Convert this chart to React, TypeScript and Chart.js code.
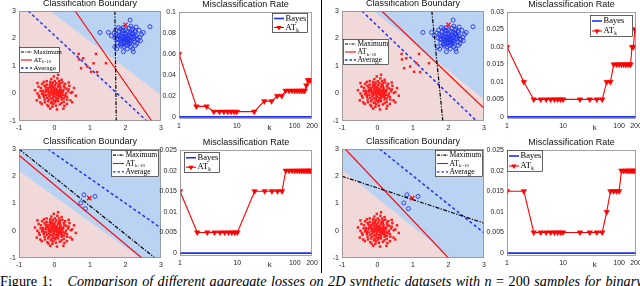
import React, { useEffect, useRef } from "react";
import { Chart, registerables } from "chart.js";

Chart.register(...registerables);

type Pt = [number, number];

// ---------------- scatter data ----------------
const redCluster: Pt[] = [
  [-0.05, 0.02], [0.12, -0.08], [-0.18, 0.15], [0.22, 0.1], [0.03, -0.25], [-0.3, -0.05], [0.15, 0.28], [-0.1, -0.35], [0.35, -0.12], [-0.22, 0.32],
  [0.08, 0.12], [-0.02, -0.12], [0.26, -0.3], [-0.38, 0.2], [0.18, 0.02], [-0.12, 0.05], [0.05, 0.38], [-0.28, -0.22], [0.4, 0.15], [-0.06, -0.48],
  [0.1, -0.18], [-0.15, -0.1], [0.28, 0.22], [-0.42, -0.15], [0.0, 0.2], [0.2, -0.22], [-0.25, 0.05], [0.13, 0.45], [-0.08, 0.28], [0.32, 0.0],
  [-0.18, -0.28], [0.06, -0.05], [-0.35, 0.35], [0.24, -0.05], [-0.02, 0.1], [0.15, -0.4], [-0.48, 0.0], [0.45, -0.25], [-0.12, 0.42], [0.02, -0.32],
  [0.3, 0.35], [-0.2, -0.42], [0.1, 0.25], [-0.32, 0.1], [0.18, -0.12], [-0.05, -0.2], [0.38, 0.08], [-0.25, 0.22], [0.0, -0.02], [0.22, 0.4],
  [-0.4, -0.32], [0.12, 0.05], [-0.1, 0.18], [0.05, -0.15], [0.27, -0.18], [-0.16, 0.0], [0.08, 0.55], [-0.3, -0.12], [0.5, 0.05], [-0.08, -0.3],
  [0.16, 0.15], [-0.22, 0.45], [0.35, -0.38], [-0.45, 0.25], [0.02, 0.3], [-0.12, -0.55], [0.25, 0.12], [-0.35, -0.02], [0.1, -0.28], [-0.02, 0.62],
  [0.42, 0.28], [-0.18, 0.12], [0.04, 0.08], [-0.28, 0.28], [0.2, -0.35], [-0.05, 0.4], [0.6, -0.08], [-0.5, -0.25], [0.14, -0.02], [-0.08, 0.0],
  [0.02, 0.05], [-0.07, 0.1], [0.09, -0.02], [-0.03, -0.07], [0.14, 0.09], [-0.11, -0.04], [0.06, 0.17], [-0.17, 0.07], [0.19, -0.06], [-0.04, 0.24],
  [0.11, -0.12], [-0.21, -0.16], [0.03, 0.14], [-0.09, -0.16], [0.23, 0.05], [-0.13, 0.25], [0.07, -0.22], [-0.24, 0.12], [0.17, 0.2], [-0.01, -0.27],
  [0.3, -0.08], [-0.33, 0.02], [0.12, 0.33], [-0.15, -0.22], [0.21, -0.15], [-0.06, 0.34], [0.0, 0.07], [-0.19, 0.2], [0.26, 0.28], [-0.27, -0.32],
  [0.09, 0.04], [-0.04, -0.39], [0.33, 0.18], [-0.39, 0.09], [0.04, -0.44], [-0.13, 0.33], [0.36, -0.22], [-0.23, -0.06], [0.15, 0.37], [-0.08, 0.14],
  [0.46, 0.02], [-0.44, -0.08], [0.2, 0.5], [-0.3, 0.42], [0.28, -0.45], [-0.17, -0.47], [0.55, 0.2], [-0.55, 0.12], [0.1, 0.68], [0.25, -0.55],
  [0.01, 0.45], [-0.36, -0.38], [0.4, 0.4], [-0.09, 0.52], [0.07, -0.58], [0.5, -0.32], [-0.48, 0.38], [0.18, 0.08], [-0.02, 0.18], [0.06, 0.02],
];

const redOutliersTop: Pt[] = [
  [0.68, 1.44], [0.81, 1.28], [0.69, 1.24], [1.17, 1.44], [1.1, 1.1],
  [0.92, 0.98], [0.75, 0.92], [1.03, 0.79], [1.45, 1.1], [1.2, 0.78],
];

const blueClusterTop: Pt[] = [
  [2.0, 2.0], [2.1, 1.92], [1.88, 2.08], [2.2, 2.15], [1.95, 1.82], [2.05, 2.25], [1.8, 1.95], [2.25, 1.88], [1.92, 2.18], [2.15, 2.05],
  [1.85, 1.78], [2.3, 2.1], [2.02, 1.75], [1.75, 2.15], [2.18, 2.3], [1.98, 1.95], [2.08, 2.12], [1.9, 1.9], [2.22, 1.98], [2.12, 1.8],
  [1.82, 2.25], [2.35, 1.95], [2.0, 2.32], [1.7, 2.02], [2.28, 2.22], [1.95, 2.05], [2.05, 1.88], [1.88, 1.72], [2.15, 1.7], [2.4, 2.05],
  [1.78, 1.85], [2.1, 2.38], [1.6, 2.1], [2.32, 1.82], [1.94, 2.4], [2.2, 1.62], [1.85, 2.0], [2.45, 2.15], [2.05, 1.62], [1.72, 2.3],
  [2.38, 2.3], [1.98, 2.15], [2.12, 1.95], [1.9, 2.28], [2.25, 2.05], [2.0, 1.85], [1.8, 2.1], [2.18, 2.18], [2.08, 2.02], [1.92, 1.98],
  [2.69, 2.43], [1.28, 2.22], [1.52, 2.22], [2.5, 2.22], [1.7, 1.7], [1.94, 1.52], [2.22, 1.52], [2.13, 2.67], [1.75, 1.62], [2.3, 2.42],
  [2.03, 2.08], [1.97, 1.9], [2.13, 2.22], [1.87, 1.97], [2.23, 2.08], [2.07, 1.78], [1.83, 2.13], [2.17, 1.9], [1.93, 2.3], [2.27, 2.28],
  [2.0, 2.18], [2.1, 1.85], [1.76, 1.98], [2.33, 2.0], [1.96, 1.7], [2.15, 2.45], [1.86, 2.35], [2.42, 1.92], [1.68, 2.2], [2.06, 1.97],
  [2.2, 2.35], [1.9, 1.8], [2.28, 1.75], [1.8, 2.4], [2.12, 2.12],
];

const crossTop: Pt[] = [[2.0, 2.5]];
const blueBottom: Pt[] = [[0.83, 1.32], [1.14, 1.26], [0.74, 1.02], [0.87, 0.81]];
const crossBottom: Pt[] = [[0.98, 1.2]];

const scatterTicks = [-1, 0, 1, 2, 3];
const scatterTickLabels = ["-1", "0", "1", "2", "3"];

// decision boundaries (end points, data units)
const shadeTL: Pt[] = [[-0.13, 3], [3, -0.05]];
const maxTL: Pt[] = [[1.7, 3], [1.74, -1]];
const atTL: Pt[] = [[0.58, 3], [2.74, -1]];
const avgTL: Pt[] = [[-0.74, 3], [2.6, -1]];

const shadeTR: Pt[] = [[-0.11, 3], [3, -0.2]];
const maxTR: Pt[] = [[1.53, 3], [1.84, -1]];
const atTR: Pt[] = [[0.12, 3], [3, -0.54]];
const avgTR: Pt[] = [[-0.44, 3], [2.79, -1]];

const shadeBL: Pt[] = [[-1, 2.2], [2.41, -1]];
const maxBL: Pt[] = [[-1, 3], [2.83, -1]];
const atBL: Pt[] = [[-1, 2.77], [2.46, -1]];
const avgBL: Pt[] = [[-0.19, 3], [3, 0.1]];

const shadeBR: Pt[] = [[-1, 2.24], [2.09, -1]];
const maxBR: Pt[] = [[-1, 2.0], [3, 0.28]];
const atBR: Pt[] = [[-0.91, 3], [2.0, -1]];
const avgBR: Pt[] = [[0.06, 3], [3, -0.08]];

// ---------------- misclassification-rate data ----------------
const kValues = [1, 2, 3, 4, 5, 6, 7, 8, 9, 10, 20, 30, 40, 50, 60, 70, 80, 90, 100, 110, 120, 130, 140, 150, 160, 170, 180, 190, 200];
const atkTopLeft = [0.06, 0.01, 0.01, 0.005, 0.005, 0.005, 0.005, 0.005, 0.005, 0.005, 0.005, 0.015, 0.015, 0.02, 0.02, 0.025, 0.025, 0.025, 0.025, 0.025, 0.025, 0.025, 0.025, 0.025, 0.03, 0.035, 0.035, 0.035, 0.035];
const atkTopRight = [0.02, 0.01, 0.005, 0.005, 0.005, 0.005, 0.005, 0.005, 0.005, 0.005, 0.005, 0.005, 0.005, 0.005, 0.01, 0.01, 0.015, 0.015, 0.015, 0.015, 0.015, 0.015, 0.015, 0.015, 0.015, 0.02, 0.02, 0.025, 0.025];
const atkBottomLeft = [0.015, 0.005, 0.005, 0.005, 0.005, 0.005, 0.005, 0.005, 0.005, 0.005, 0.015, 0.015, 0.015, 0.015, 0.015, 0.02, 0.02, 0.02, 0.02, 0.02, 0.02, 0.02, 0.02, 0.02, 0.02, 0.02, 0.02, 0.02, 0.02];
const atkBottomRight = [0.015, 0.015, 0.005, 0.005, 0.005, 0.005, 0.005, 0.005, 0.005, 0.005, 0.005, 0.005, 0.005, 0.005, 0.01, 0.015, 0.015, 0.015, 0.015, 0.02, 0.02, 0.02, 0.02, 0.02, 0.02, 0.02, 0.02, 0.02, 0.02];
const bayesK = [1, 200];
const bayesRate = [0, 0];

const rateXTicks = [1, 10, 100, 200];
const rateXTickLabels = ["1", "10", "100", "200"];
const yTicksTopLeft = [0, 0.02, 0.04, 0.06, 0.08, 0.1];
const yLabelsTopLeft = ["0", "0.02", "0.04", "0.06", "0.08", "0.1"];
const yTicksTopRight = [0, 0.005, 0.01, 0.015, 0.02, 0.025, 0.03];
const yLabelsTopRight = ["0", "0.005", "0.01", "0.015", "0.02", "0.025", "0.03"];
const yTicksBottom = [0, 0.005, 0.01, 0.015, 0.02, 0.025];
const yLabelsBottom = ["0", "0.005", "0.01", "0.015", "0.02", "0.025"];

// ---------------- styling helpers ----------------
const SANS = '"Liberation Sans", Arial, Helvetica, sans-serif';
const SERIF = '"Liberation Serif", "Times New Roman", serif';
const RED = "#ff0000";
const BLUE = "#1f30f2";
const PINK_BG = "#f2d9d9";
const BLUE_BG = "#bad3f3";

const xy = (a: Pt[]) => a.map(([x, y]) => ({ x, y }));

type LegendEntry = { text: string; sub?: string; color: string; dash: number[]; lw: number; marker?: boolean };
type LegendSpec = { side: "left" | "right"; dx: number; dy: number; w: number; h: number; fs: number; sample: number; entries: LegendEntry[] };

function drawTri(ctx: CanvasRenderingContext2D, cx: number, cy: number, r: number) {
  ctx.beginPath();
  ctx.moveTo(cx - r * 0.866, cy - r * 0.5);
  ctx.lineTo(cx + r * 0.866, cy - r * 0.5);
  ctx.lineTo(cx, cy + r);
  ctx.closePath();
  ctx.fill();
}

function drawLegend(ctx: CanvasRenderingContext2D, a: any, L: LegendSpec) {
  const x = L.side === "left" ? a.left + L.dx : a.right - L.dx - L.w;
  const y = a.top + L.dy;
  ctx.save();
  ctx.fillStyle = "#fff";
  ctx.fillRect(x, y, L.w, L.h);
  ctx.strokeStyle = "#222";
  ctx.lineWidth = 0.7;
  ctx.strokeRect(x + 0.5, y + 0.5, L.w - 1, L.h - 1);
  const rh = (L.h - 2) / L.entries.length;
  L.entries.forEach((e, i) => {
    const cy = y + 1 + rh * (i + 0.5);
    ctx.setLineDash(e.dash);
    ctx.strokeStyle = e.color;
    ctx.lineWidth = e.lw;
    ctx.beginPath();
    ctx.moveTo(x + 2, cy);
    ctx.lineTo(x + 2 + L.sample, cy);
    ctx.stroke();
    ctx.setLineDash([]);
    if (e.marker) {
      ctx.fillStyle = e.color;
      drawTri(ctx, x + 2 + L.sample / 2, cy, 3.1);
    }
    ctx.fillStyle = "#000";
    ctx.font = `${L.fs}px ${SERIF}`;
    ctx.textAlign = "left";
    ctx.textBaseline = "middle";
    const tx = x + 3.5 + L.sample;
    ctx.fillText(e.text, tx, cy);
    if (e.sub) {
      const w = ctx.measureText(e.text).width;
      ctx.font = `${L.fs * 0.62}px ${SERIF}`;
      ctx.fillText(e.sub, tx + w + 0.3, cy + L.fs * 0.32);
    }
  });
  ctx.restore();
}

function decoPlugin(o: { bg: string; title: string; legend: LegendSpec; k?: boolean }) {
  return {
    id: "panelDeco",
    beforeDraw(chart: any) {
      const { ctx, chartArea: a } = chart;
      ctx.save();
      ctx.fillStyle = o.bg;
      ctx.fillRect(a.left, a.top, a.right - a.left, a.bottom - a.top);
      ctx.restore();
    },
    afterDraw(chart: any) {
      const { ctx, chartArea: a } = chart;
      ctx.save();
      ctx.strokeStyle = "#8c8c8c";
      ctx.lineWidth = 0.8;
      ctx.strokeRect(a.left + 0.5, a.top + 0.5, a.right - a.left - 1, a.bottom - a.top - 1);
      ctx.fillStyle = "#111";
      ctx.font = `9px ${SANS}`;
      ctx.textAlign = "center";
      ctx.textBaseline = "middle";
      ctx.fillText(o.title, (a.left + a.right) / 2, a.top - 7);
      if (o.k) {
        ctx.font = `8px ${SANS}`;
        ctx.fillStyle = "#262626";
        ctx.fillText("k", a.left + (a.right - a.left) * 0.68, a.bottom + 8.5);
      }
      ctx.restore();
      drawLegend(ctx, a, o.legend);
    },
  };
}

function axis(type: string, min: number, max: number, ticks: number[], labels: string[], fitKey: "width" | "height", fitVal: number) {
  return {
    type,
    min,
    max,
    grid: { display: false, drawTicks: false },
    border: { display: false },
    ticks: {
      font: { family: SANS, size: 7 },
      color: "#262626",
      padding: 3,
      maxRotation: 0,
      autoSkip: false,
      callback: (_v: any, i: number) => labels[i],
    },
    afterBuildTicks: (s: any) => {
      s.ticks = ticks.map((v) => ({ value: v }));
    },
    afterFit: (s: any) => {
      s[fitKey] = fitVal;
    },
  };
}

type Rect = [number, number, number, number];
const AX_S = 20, AX_R = 26, TOP = 12, RIGHT = 9, BOT = 14;

function baseOptions(scales: any) {
  return {
    responsive: false,
    maintainAspectRatio: false,
    animation: false,
    devicePixelRatio: 1,
    events: [],
    layout: { padding: { top: TOP, right: RIGHT, left: 0, bottom: 0 } },
    plugins: { legend: { display: false }, tooltip: { enabled: false }, title: { display: false } },
    scales,
  };
}

const scatterLegend = (side: "left" | "right", dx: number, dy: number, w: number, h: number, fs: number): LegendSpec => ({
  side, dx, dy, w, h, fs, sample: 11,
  entries: [
    { text: "Maximum", color: "#000", dash: [3, 1.2, 1, 1.2], lw: 1.1 },
    { text: "AT", sub: "k=10", color: RED, dash: [], lw: 1.1 },
    { text: "Average", color: BLUE, dash: [2.5, 2], lw: 1.4 },
  ],
});

const rateLegend = (side: "left" | "right", dx: number, dy: number, w: number, h: number): LegendSpec => ({
  side, dx, dy, w, h, fs: 8.5, sample: 10,
  entries: [
    { text: "Bayes", color: BLUE, dash: [], lw: 1.6 },
    { text: "AT", sub: "k", color: RED, dash: [], lw: 1.1, marker: true },
  ],
});

type ScatterSpec = {
  red: Pt[]; blue: Pt[]; cross: Pt[]; shade: Pt[]; shadeFill: string; bg: string; shadeColor: string;
  max: Pt[]; at: Pt[]; avg: Pt[]; legend: LegendSpec;
};

function scatterConfig(s: ScatterSpec): any {
  return {
    type: "scatter",
    data: {
      datasets: [
        { type: "scatter", data: xy(s.cross), showLine: false, pointStyle: "crossRot", pointRadius: 3, borderColor: RED, backgroundColor: RED, borderWidth: 1.3, order: 0 },
        { type: "line", data: xy(s.max), showLine: true, borderColor: "#000", borderWidth: 1.2, borderDash: [4, 1.5, 1.2, 1.5], pointRadius: 0, fill: false, order: 1 },
        { type: "line", data: xy(s.at), showLine: true, borderColor: RED, borderWidth: 1.1, pointRadius: 0, fill: false, order: 2 },
        { type: "line", data: xy(s.avg), showLine: true, borderColor: BLUE, borderWidth: 1.5, borderDash: [3, 2.5], pointRadius: 0, fill: false, order: 3 },
        { type: "scatter", data: xy(s.blue), showLine: false, pointStyle: "circle", pointRadius: 2, borderColor: "#2236ee", backgroundColor: "rgba(0,0,0,0)", borderWidth: 0.9, order: 4 },
        { type: "scatter", data: xy(s.red), showLine: false, pointStyle: "rect", pointRadius: 1.75, borderColor: "#ff1c1c", backgroundColor: "#ff1c1c", borderWidth: 0, order: 5 },
        { type: "line", data: xy(s.shade), showLine: true, borderColor: "rgba(0,0,0,0)", borderWidth: 0, pointRadius: 0, fill: s.shadeFill, backgroundColor: s.shadeColor, order: 10 },
      ],
    },
    options: baseOptions({
      x: axis("linear", -1, 3, scatterTicks, scatterTickLabels, "height", BOT),
      y: axis("linear", -1, 3, scatterTicks, scatterTickLabels, "width", AX_S),
    }),
    plugins: [decoPlugin({ bg: s.bg, title: "Classification Boundary", legend: s.legend })],
  };
}

type RateSpec = { atk: number[]; ymin: number; ymax: number; yTicks: number[]; yLabels: string[]; legend: LegendSpec };

function rateConfig(r: RateSpec): any {
  return {
    type: "line",
    data: {
      datasets: [
        {
          data: kValues.map((k, i) => ({ x: k, y: r.atk[i] })),
          borderColor: RED, borderWidth: 1.1,
          pointStyle: "triangle", pointRotation: 180, pointRadius: 3.3,
          pointBackgroundColor: RED, pointBorderColor: RED, pointBorderWidth: 0.4, fill: false, order: 0,
        },
        {
          data: bayesK.map((k, i) => ({ x: k, y: bayesRate[i] })),
          borderColor: BLUE, borderWidth: 1.6, pointRadius: 0, fill: false, order: 1,
        },
      ],
    },
    options: baseOptions({
      x: axis("logarithmic", 1, 200, rateXTicks, rateXTickLabels, "height", BOT),
      y: axis("linear", r.ymin, r.ymax, r.yTicks, r.yLabels, "width", AX_R),
    }),
    plugins: [decoPlugin({ bg: "#ffffff", title: "Misclassification Rate", legend: r.legend, k: true })],
  };
}

function Panel({ rect, ax, build }: { rect: Rect; ax: number; build: () => any }) {
  const ref = useRef<HTMLCanvasElement | null>(null);
  const [l, t, r, b] = rect;
  const left = l - ax;
  const top = t - TOP;
  const width = r - l + ax + RIGHT;
  const height = b - t + TOP + BOT;
  useEffect(() => {
    if (!ref.current) return;
    const chart = new Chart(ref.current, build());
    return () => chart.destroy();
  }, []);
  return <canvas ref={ref} width={width} height={height} style={{ position: "absolute", left, top, width, height }} />;
}

export default function App() {
  return (
    <div style={{ position: "fixed", left: 0, top: 0, width: 640, height: 286, overflow: "hidden", background: "#fff" }}>
      <Panel rect={[19, 11, 161, 121]} ax={AX_S} build={() => scatterConfig({
        red: [...redCluster, ...redOutliersTop], blue: blueClusterTop, cross: crossTop,
        shade: shadeTL, shadeFill: "end", bg: PINK_BG, shadeColor: BLUE_BG,
        max: maxTL, at: atTL, avg: avgTL, legend: scatterLegend("left", 0, 36, 41, 26, 6.8),
      })} />
      <Panel rect={[179, 12, 312, 119]} ax={AX_R} build={() => rateConfig({
        atk: atkTopLeft, ymin: -0.002, ymax: 0.1, yTicks: yTicksTopLeft, yLabels: yLabelsTopLeft,
        legend: rateLegend("right", 4, 1, 36, 20),
      })} />
      <Panel rect={[342, 11, 484, 121]} ax={AX_S} build={() => scatterConfig({
        red: [...redCluster, ...redOutliersTop], blue: blueClusterTop, cross: crossTop,
        shade: shadeTR, shadeFill: "end", bg: PINK_BG, shadeColor: BLUE_BG,
        max: maxTR, at: atTR, avg: avgTR, legend: scatterLegend("left", 1, 28, 46, 26, 7.4),
      })} />
      <Panel rect={[507, 12, 636, 119]} ax={AX_R} build={() => rateConfig({
        atk: atkTopRight, ymin: -0.0006, ymax: 0.03, yTicks: yTicksTopRight, yLabels: yLabelsTopRight,
        legend: rateLegend("right", 3, 3, 43, 22),
      })} />
      <Panel rect={[19, 149, 161, 258]} ax={AX_S} build={() => scatterConfig({
        red: redCluster, blue: blueBottom, cross: crossBottom,
        shade: shadeBL, shadeFill: "start", bg: BLUE_BG, shadeColor: PINK_BG,
        max: maxBL, at: atBL, avg: avgBL, legend: scatterLegend("right", 2, 1, 48, 27, 7.6),
      })} />
      <Panel rect={[180, 150, 312, 256]} ax={AX_R} build={() => rateConfig({
        atk: atkBottomLeft, ymin: -0.0007, ymax: 0.025, yTicks: yTicksBottom, yLabels: yLabelsBottom,
        legend: rateLegend("left", 4, 2, 36, 21),
      })} />
      <Panel rect={[342, 149, 484, 258]} ax={AX_S} build={() => scatterConfig({
        red: redCluster, blue: blueBottom, cross: crossBottom,
        shade: shadeBR, shadeFill: "start", bg: BLUE_BG, shadeColor: PINK_BG,
        max: maxBR, at: atBR, avg: avgBR, legend: scatterLegend("right", 1, 1, 48, 27, 7.6),
      })} />
      <Panel rect={[507, 150, 636, 256]} ax={AX_R} build={() => rateConfig({
        atk: atkBottomRight, ymin: -0.0007, ymax: 0.025, yTicks: yTicksBottom, yLabels: yLabelsBottom,
        legend: rateLegend("left", 0, 0, 36, 22),
      })} />
      <div style={{ position: "absolute", left: 321, top: 0, width: 1, height: 273, background: "#000" }} />
      <div style={{ position: "absolute", left: 0, top: 274, fontFamily: SERIF, fontSize: 14.2, lineHeight: "14px", whiteSpace: "nowrap", wordSpacing: 0.9, color: "#000" }}>
        Figure 1:<span style={{ display: "inline-block", width: 15 }} /><i>Comparison of different aggregate losses on 2D synthetic datasets with </i><i>n</i> = 200 <i>samples for binary</i>
      </div>
    </div>
  );
}
